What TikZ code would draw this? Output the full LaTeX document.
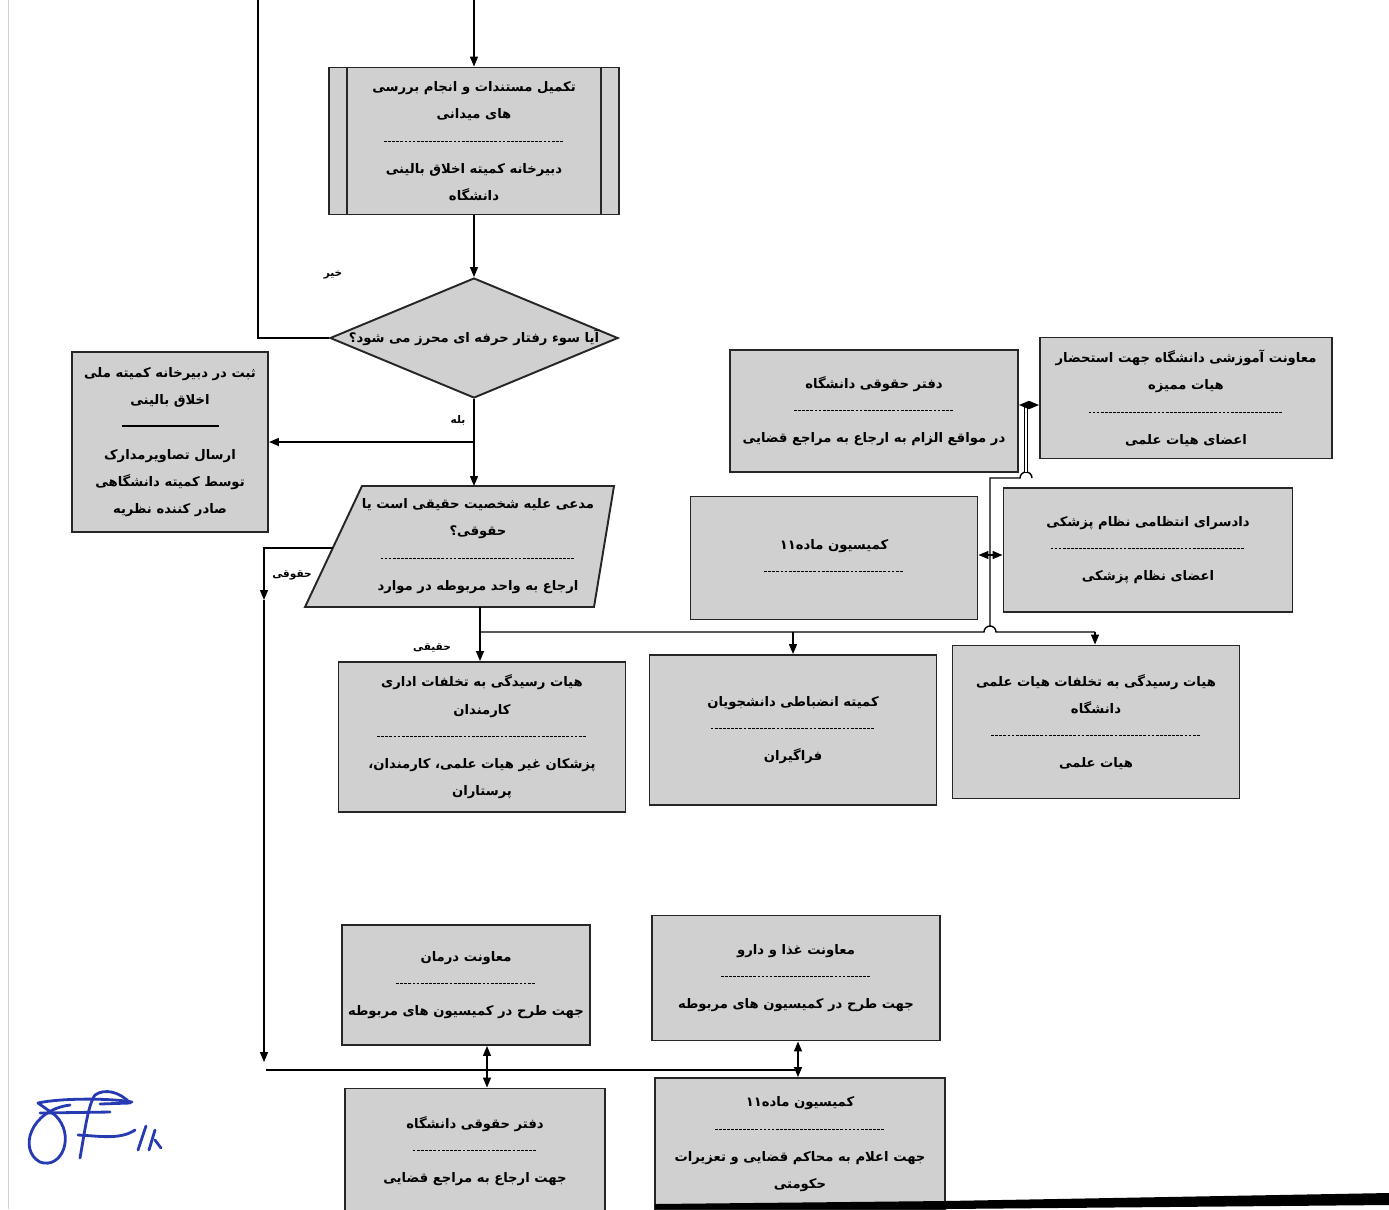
\documentclass[tikz,border=0pt]{standalone}
\usepackage{fontspec}
\newfontfamily\arabicfont[Script=Arabic]{DejaVu Sans}
\TeXXeTstate=1
\usetikzlibrary{shapes.geometric,arrows.meta}
\definecolor{boxgray}{RGB}{208,208,208}
\definecolor{inkblue}{RGB}{38,58,178}
\newcommand\fa[1]{\beginR #1\endR}
\newcommand\sepdash[1]{\hbox to #1{\xleaders\hbox{\rule[0.6ex]{1.6pt}{0.5pt}\hskip0.7pt}\hfill}}

\begin{document}
\begin{tikzpicture}[x=0.2mm,y=-0.2mm,
    box/.style={draw=black!85,line width=1.1pt,fill=boxgray,align=center,inner sep=2pt,
      font=\arabicfont\bfseries\fontsize{7.5}{15.5}\selectfont},
    boxtext/.style={align=center,inner sep=0pt,font=\arabicfont\bfseries\fontsize{7.5}{15.5}\selectfont},
    lbl/.style={font=\arabicfont\bfseries\fontsize{6}{7}\selectfont,inner sep=1pt},
    conn/.style={thick},
    arr/.style={thick,-{Triangle[length=2mm,width=1.6mm]}}]
        \useasboundingbox (0,0) rectangle (1389,1209);
        \clip (0,0) rectangle (1389,1209);
        \draw[gray!35] (8,0)--(8,1209);
        % top of the chain
        \coordinate (top-in) at (474,0);
        \coordinate (loop-top) at (258,0);
        \node[box,minimum width=58mm,minimum height=29.4mm] (proc) at (474,141)
            {\fa{تکمیل مستندات و انجام بررسی}\\ \fa{های میدانی}\\ \sepdash{36mm}\\ \fa{دبیرخانه کمیته اخلاق بالینی}\\ \fa{دانشگاه}};
        \draw[draw=black!85,line width=1.1pt] ([xshift=3.8mm]proc.north west)--([xshift=3.8mm]proc.south west);
        \draw[draw=black!85,line width=1.1pt] ([xshift=-3.8mm]proc.north east)--([xshift=-3.8mm]proc.south east);
        \node[box,diamond,minimum width=57.6mm,minimum height=24mm,inner sep=0pt] (dec) at (474,338)
            {\makebox[0pt]{\fa{آیا سوء رفتار حرفه ای محرز می شود؟}}};
        \node[box,minimum width=39.2mm,minimum height=36mm] (reg) at (170,442)
            {\fa{ثبت در دبیرخانه کمیته ملی}\\ \fa{اخلاق بالینی}\\ \rule[0.6ex]{19.4mm}{1.2pt}\\ \fa{ارسال تصاویرمدارک}\\ \fa{توسط کمیته دانشگاهی}\\ \fa{صادر کننده نظریه}};
        \filldraw[draw=black!85,line width=1.1pt,fill=boxgray] (362,486)--(614,486)--(594,607)--(305,607)--cycle;
        \node[boxtext] (para) at (478,546)
            {\fa{مدعی علیه شخصیت حقیقی است یا}\\ \fa{حقوقی؟}\\ \sepdash{39mm}\\ \fa{ارجاع به واحد مربوطه در موارد}};
        \coordinate (para-n) at (474,486);
        \coordinate (para-s) at (480,607);
        \coordinate (para-w) at (333,548);
        % right cluster
        \node[box,minimum width=57.6mm,minimum height=24.4mm] (legal1) at (874,411)
            {\fa{دفتر حقوقی دانشگاه}\\ \sepdash{32mm}\\ \fa{در مواقع الزام به ارجاع به مراجع قضایی}};
        \node[box,minimum width=58.4mm,minimum height=24.2mm] (edu) at (1186,398)
            {\fa{معاونت آموزشی دانشگاه جهت استحضار}\\ \fa{هیات ممیزه}\\ \sepdash{39mm}\\ \fa{اعضای هیات علمی}};
        \node[box,minimum width=57.4mm,minimum height=24.6mm] (art11) at (834,558)
            {\fa{کمیسیون ماده۱۱}\\ \sepdash{28mm}};
        \node[box,minimum width=57.8mm,minimum height=24.8mm] (court) at (1148,550)
            {\fa{دادسرای انتظامی نظام پزشکی}\\ \sepdash{39mm}\\ \fa{اعضای نظام پزشکی}};
        \node[box,minimum width=57.4mm,minimum height=30mm] (staff) at (482,737)
            {\fa{هیات رسیدگی به تخلفات اداری}\\ \fa{کارمندان}\\ \sepdash{42mm}\\ \fa{پزشکان غیر هیات علمی، کارمندان،}\\ \fa{پرستاران}};
        \node[box,minimum width=57.4mm,minimum height=30mm] (stud) at (793,730)
            {\fa{کمیته انضباطی دانشجویان}\\ \sepdash{33mm}\\ \fa{فراگیران}};
        \node[box,minimum width=57.4mm,minimum height=30.6mm] (fac) at (1096,722)
            {\fa{هیات رسیدگی به تخلفات هیات علمی}\\ \fa{دانشگاه}\\ \sepdash{42mm}\\ \fa{هیات علمی}};
        % bottom group
        \node[box,minimum width=49.6mm,minimum height=24mm] (treat) at (466,985)
            {\fa{معاونت درمان}\\ \sepdash{28mm}\\ \fa{جهت طرح در کمیسیون های مربوطه}};
        \node[box,minimum width=57.6mm,minimum height=25mm] (food) at (796,978)
            {\fa{معاونت غذا و دارو}\\ \sepdash{30mm}\\ \fa{جهت طرح در کمیسیون های مربوطه}};
        \node[box,minimum width=52mm,minimum height=25mm] (legal2) at (475,1151)
            {\fa{دفتر حقوقی دانشگاه}\\ \sepdash{25mm}\\ \fa{جهت ارجاع به مراجع قضایی}};
        \node[box,minimum width=58mm,minimum height=26.4mm] (art11b) at (800,1144)
            {\fa{کمیسیون ماده۱۱}\\ \sepdash{34mm}\\ \fa{جهت اعلام به محاکم قضایی و تعزیرات}\\ \fa{حکومتی}};
        \fill[black] (655,1204)--(945,1201)--(1389,1193)--(1389,1205)--(945,1209)--(655,1209)--cycle;
        % connectors
        \draw[arr] (top-in)--(proc.north);
        \draw[arr] (proc.south)--(dec.north);
        \draw[conn] (dec.west)--(loop-top |- dec.west)--(loop-top);
        \node[lbl] (no) at (333,275) {\fa{خیر}};
        \draw[arr] (dec.south)--(para-n);
        \coordinate (yes) at (474,442);
        \draw[arr] (yes)--(reg.east);
        \node[lbl] (yes-l) at (458,420) {\fa{بله}};
        \coordinate (left-a) at (264,600);
        \coordinate (left-b) at (264,1062);
        \draw[arr] (para-w)-|(left-a);
        \draw[arr] (left-a)--(left-b);
        \node[lbl] (legal-l) at (292,575) {\fa{حقوقی}};
        \coordinate (bus-l) at (480,632);
        \coordinate (bus-m) at (793,632);
        \coordinate (bus-r) at (1095,632);
        \draw[conn] (para-s)--(bus-l);
        \draw[conn] (bus-l)--(984,632) arc[start angle=180,end angle=360,radius=6]--(bus-r);
        \draw[arr] (bus-l)--(bus-l |- staff.north);
        \draw[arr] (bus-m)--(stud.north);
        \draw[arr] (bus-r)--(bus-r |- fac.north);
        \node[lbl] (real-l) at (432,648) {\fa{حقیقی}};
        \coordinate (mid-j) at (990,555);
        \coordinate (up-j) at (1026,405);
        \draw[conn] (990,626)--(990,478)--(1020,478) arc[start angle=180,end angle=360,radius=6];
        \draw[thick,double,double distance=1.2pt] (1026,472)--(up-j);
        \draw[arr] (up-j)--(up-j -| legal1.east);
        \draw[arr] (up-j)--(up-j -| edu.west);
        \draw[arr] (mid-j)--(mid-j -| art11.east);
        \draw[arr] (mid-j)--(mid-j -| court.west);
        \coordinate (hub-a) at (487,1070);
        \coordinate (hub-b) at (798,1070);
        \draw[conn] (266,1070)--(hub-b);
        \draw[arr] (hub-a)--(hub-a |- treat.south);
        \draw[arr] (hub-a)--(hub-a |- legal2.north);
        \draw[arr] (hub-b)--(hub-b |- food.south);
        \draw[arr] (hub-b)--(hub-b |- art11b.north);
        % signature
        \begin{scope}[inkblue,line width=1.6pt,line cap=round,line join=round]
            \draw (70,1105) .. controls (30,1110) and (18,1150) .. (40,1162) .. controls (62,1170) and (76,1135) .. (55,1115)--(38,1103) .. controls (60,1098) and (110,1098) .. (132,1102);
            \draw (40,1113)--(110,1112);
            \draw (80,1158) .. controls (85,1130) and (88,1105) .. (95,1095) .. controls (105,1088) and (120,1092) .. (130,1103)--(100,1104);
            \draw (78,1135) .. controls (100,1136) and (120,1140) .. (135,1130);
            \draw (138,1150)--(146,1126);
            \draw (149,1150)--(155,1130);
            \draw (155,1140)--(161,1148);
        \end{scope}
    \end{tikzpicture}
\end{document}
